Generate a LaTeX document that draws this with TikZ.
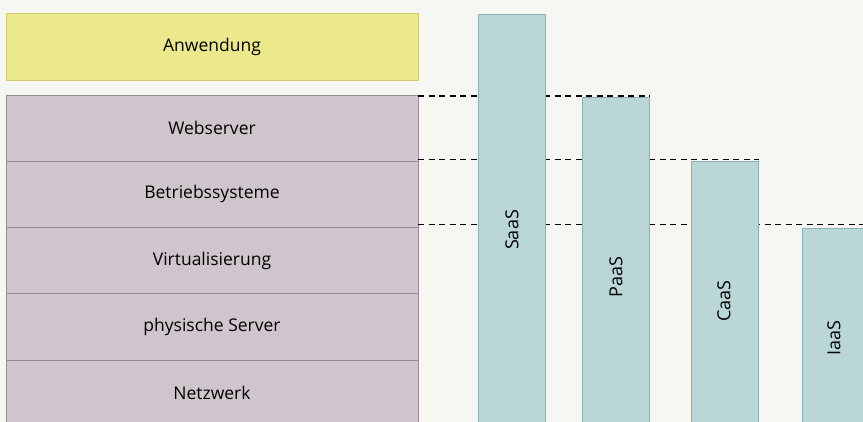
\documentclass[tikz,border=0pt]{standalone}
\usepackage{fontspec}
\setmainfont{Open Sans}
\usetikzlibrary{positioning}
\definecolor{paper}{HTML}{F6F6F3}
\definecolor{appfill}{HTML}{ECE98C}
\definecolor{appline}{HTML}{D2CC6E}
\definecolor{stackfill}{HTML}{CFC5CC}
\definecolor{stackline}{HTML}{968C93}
\definecolor{barfill}{HTML}{BAD6D6}
\definecolor{barline}{HTML}{8AB2B2}
\tikzset{
	layer/.style    = {draw=stackline, fill=stackfill, line width=0.8pt, rectangle, outer sep=0pt,
		minimum width=412pt, minimum height=66.3pt, inner sep=0pt, font=\fontsize{17.5}{20}\selectfont},
	app/.style      = {layer, draw=appline, fill=appfill, minimum height=67pt},
	bar/.style      = {draw=barline, fill=barfill, line width=0.8pt, rectangle, inner sep=0pt,
		minimum width=67pt, anchor=north west},
	barlabel/.style = {rotate=90, font=\fontsize{18}{20}\selectfont},
	level/.style    = {dashed, line width=1.4pt, dash pattern=on 6pt off 4.5pt}
}
\begin{document}
\begin{tikzpicture}[x=1pt, y=-1pt]
	\useasboundingbox (0,0) rectangle (863,422);
	\fill[paper] (0,0) rectangle (863,422);
	\clip (0,0) rectangle (863,422);
	
	% the software stack
	\draw
	node at (212,46.5)[app] (anw) {Anwendung}
	node at (212,128.15)[layer] (web) {Webserver}
	node[layer, below=0pt of web] (bs) {Betriebssysteme}
	node[layer, below=0pt of bs] (virt) {Virtualisierung}
	node[layer, below=0pt of virt] (phys) {physische Server}
	node[layer, below=0pt of phys] (netz) {Netzwerk};
	
	% level lines, partly hidden by the bars
	\coordinate (rand) at (863,224);
	\coordinate (paasr) at (650,96);
	\coordinate (caasr) at (759,159);
	\draw[level] ([yshift=-1pt]web.north east) -- ([yshift=-1pt]web.north east -| paasr);
	\draw[level] ([yshift=2pt]bs.north east) -- ([yshift=2pt]bs.north east -| caasr);
	\draw[level] ([yshift=3pt]virt.north east) -- ([yshift=3pt]virt.north east -| rand);
	
	% the service models
	\draw
	node at (478,14)[bar, minimum height=430pt] (saas) {}
	node at (582,97)[bar, minimum height=347pt] (paas) {}
	node at (691,161)[bar, minimum height=283pt] (caas) {}
	node at (802,228)[bar, minimum height=216pt] (iaas) {};
	
	\node[barlabel] at (512,230) {SaaS};
	\node[barlabel] at (616,277) {PaaS};
	\node[barlabel] at (724,301) {CaaS};
	\node[barlabel] at (834,338) {IaaS};
\end{tikzpicture}
\end{document}
